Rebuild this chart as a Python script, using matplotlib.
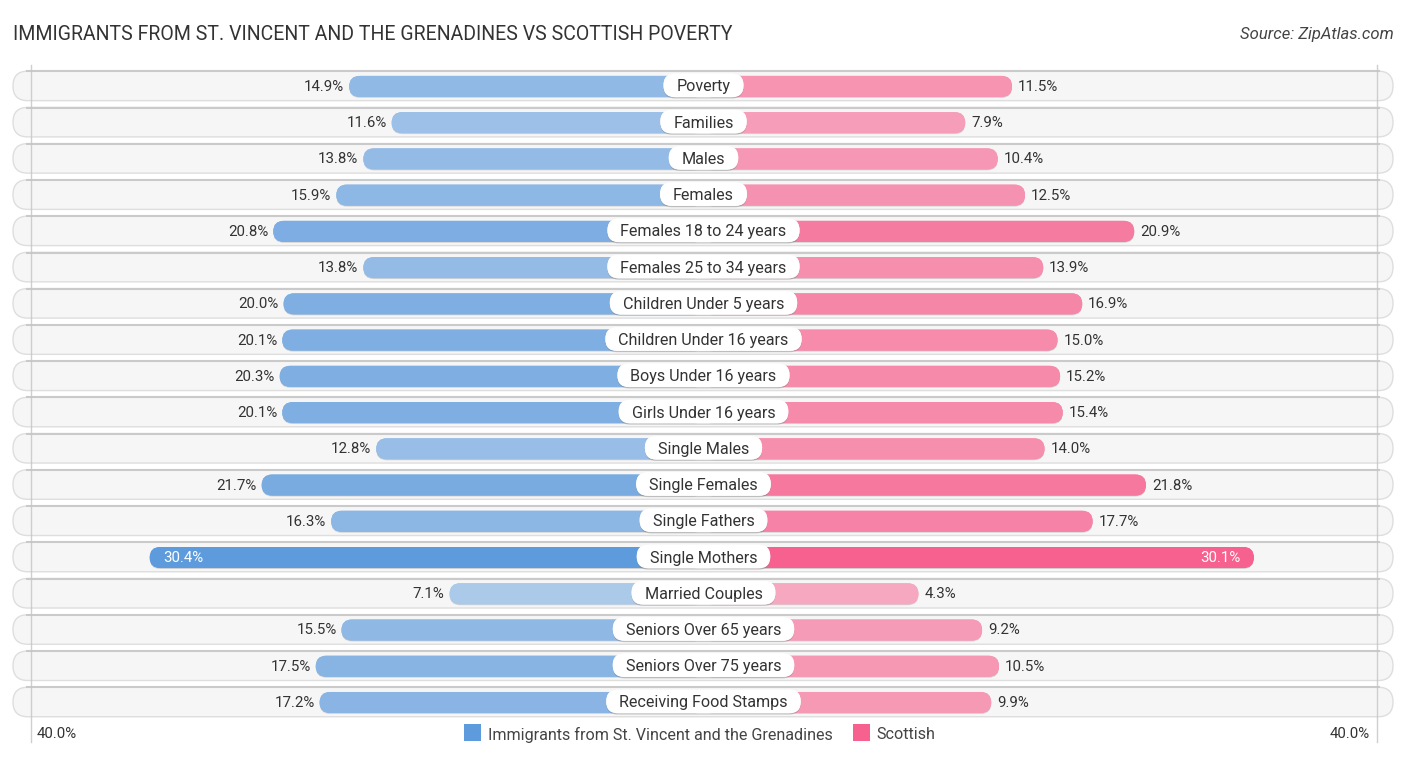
import matplotlib
matplotlib.use("Agg")
import matplotlib.pyplot as plt
import matplotlib.patheffects as pe
from matplotlib.colors import to_rgb
from matplotlib.patches import FancyBboxPatch, Rectangle

plt.rcParams["font.family"] = ["Roboto", "DejaVu Sans"]

categories = ["Poverty", "Families", "Males", "Females", "Females 18 to 24 years",
              "Females 25 to 34 years", "Children Under 5 years", "Children Under 16 years",
              "Boys Under 16 years", "Girls Under 16 years", "Single Males", "Single Females",
              "Single Fathers", "Single Mothers", "Married Couples", "Seniors Over 65 years",
              "Seniors Over 75 years", "Receiving Food Stamps"]
immigrants = [14.9, 11.6, 13.8, 15.9, 20.8, 13.8, 20.0, 20.1, 20.3, 20.1, 12.8, 21.7,
              16.3, 30.4, 7.1, 15.5, 17.5, 17.2]
scottish = [11.5, 7.9, 10.4, 12.5, 20.9, 13.9, 16.9, 15.0, 15.2, 15.4, 14.0, 21.8,
            17.7, 30.1, 4.3, 9.2, 10.5, 9.9]
series_names = ["Immigrants from St. Vincent and the Grenadines", "Scottish"]
title = "IMMIGRANTS FROM ST. VINCENT AND THE GRENADINES VS SCOTTISH POVERTY"
source = "Source: ZipAtlas.com"
axis_label = "40.0%"

W, H = 1406, 758
CX = 703.5          # px, middle of the chart
PX_X = 12.93        # px per axes unit
Y0, PX_Y = 86.4, 36.24  # first row centre, row spacing
BLUE, PINK = "#5e9bdd", "#f6618f"
TEXT = "#333333"


def px_x(px):
    return (px - CX) / PX_X


def px_y(px):
    return (px - Y0) / PX_Y


def left_end(v):
    return -(162.5 + 12.87 * v) / PX_X


def right_end(v):
    return (159 + 13.0 * v) / PX_X


def rounded(ax, x0, x1, yc, h_px, r_px, **kw):
    h = h_px / PX_Y
    p = FancyBboxPatch((x0, yc - h / 2), x1 - x0, h,
                       boxstyle=f"round,pad=0,rounding_size={r_px / PX_X}",
                       mutation_aspect=PX_X / PX_Y, **kw)
    ax.add_patch(p)
    return p


def bar_color(base, a):
    # larger values are drawn more saturated, blended on the track colour
    a = min(1.0, a)
    return tuple(a * c + (1 - a) * 0.961 for c in to_rgb(base))


fig = plt.figure(figsize=(W / 100, H / 100), dpi=100, facecolor="white")
ax = fig.add_axes([0, 0, 1, 1])
ax.set_xlim(px_x(0), px_x(W))
ax.set_ylim(px_y(H), px_y(0))
ax.axis("off")
renderer = fig.canvas.get_renderer()

bar_shadow = [pe.withSimplePatchShadow(offset=(0, -0.7), shadow_rgbFace="#888888", alpha=0.3), pe.Normal()]
pill_shadow = [pe.withSimplePatchShadow(offset=(0, -1), shadow_rgbFace="#777777", alpha=0.35), pe.Normal()]
UP = 1 / PX_Y       # text sits one pixel above the row centre

for i, cat in enumerate(categories):
    # track
    track_y = i - 0.5 / PX_Y
    rounded(ax, px_x(13), px_x(1393), track_y, 29.5, 14.7, fc="#f6f6f6", ec="#dedede", lw=1, zorder=1)
    ax.plot([px_x(26), px_x(1380)], [track_y - 14.6 / PX_Y] * 2, color="#cacaca", lw=1.5, zorder=1.1,
            solid_capstyle="butt")

    # bars
    a, b = immigrants[i], scottish[i]
    xa, xb = left_end(a), right_end(b)
    left = rounded(ax, xa, 0, i, 21, 10.5, fc=bar_color(BLUE, 0.33 + 0.0225 * a), ec="none", zorder=2)
    right = rounded(ax, 0, xb, i, 21, 10.5, fc=bar_color(PINK, 0.44 + 0.0185 * b), ec="none", zorder=2)
    left.set_path_effects(bar_shadow)
    right.set_path_effects(bar_shadow)

    # values
    if a > 28:
        ax.text(xa + 13 / PX_X, i - UP, f"{a:.1f}%", color="white", ha="left", va="center_baseline",
                fontsize=10.8, zorder=5)
    else:
        ax.text(xa - 5 / PX_X, i - UP, f"{a:.1f}%", color=TEXT, ha="right", va="center_baseline",
                fontsize=10.8, zorder=5)
    if b > 28:
        ax.text(xb - 13 / PX_X, i - UP, f"{b:.1f}%", color="white", ha="right", va="center_baseline",
                fontsize=10.8, zorder=5)
    else:
        ax.text(xb + 6 / PX_X, i - UP, f"{b:.1f}%", color=TEXT, ha="left", va="center_baseline",
                fontsize=10.8, zorder=5)

    # category pill, sized from the text
    t = ax.text(0, i - UP, cat, color=TEXT, ha="center", va="center_baseline", fontsize=11.6, zorder=6)
    half = (t.get_window_extent(renderer).width + 26) / 2 / PX_X
    pill = rounded(ax, -half, half, i - 1 / PX_Y, 23.5, 11.7, fc="white", ec="none", zorder=5.5)
    pill.set_path_effects(pill_shadow)

# axis edges
for px in (30.5, 1377):
    ax.plot([px_x(px)] * 2, [px_y(65), px_y(742)], color="#c4c4c4", lw=1, alpha=0.8, zorder=4)

ax.text(px_x(37), px_y(733), axis_label, color=TEXT, ha="left", va="center_baseline", fontsize=10.8)
ax.text(px_x(1370), px_y(733), axis_label, color=TEXT, ha="right", va="center_baseline", fontsize=10.8)

# legend
for px0, text_px, color, name in ((464, 488, BLUE, series_names[0]), (853, 876, PINK, series_names[1])):
    r = Rectangle((px_x(px0), px_y(724)), 17 / PX_X, 17 / PX_Y, fc=color, ec="none", zorder=3)
    ax.add_patch(r)
    ax.text(px_x(text_px), px_y(733), name, color="#444444", ha="left", va="center_baseline", fontsize=11.6)

ax.text(px_x(13), px_y(33), title, color=TEXT, ha="left", va="center_baseline", fontsize=14.08)
ax.text(px_x(1394), px_y(33), source, color="#444444", ha="right", va="center_baseline", fontsize=12,
        style="italic")

fig.savefig("out.png", dpi=100, facecolor="white")
plt.close(fig)
